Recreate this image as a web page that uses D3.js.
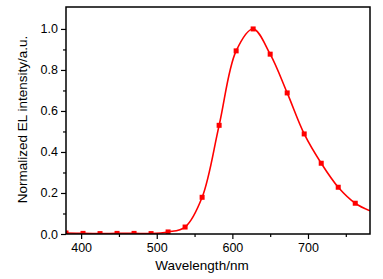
<!DOCTYPE html>
<html>
<head>
<meta charset="utf-8">
<script src="https://cdn.jsdelivr.net/npm/d3@7"></script>
<style>
  body { margin: 0; background: #fff; }
  text { font-family: "Liberation Sans", Arial, sans-serif; fill: #000; }
</style>
</head>
<body>
<div id="chart"></div>
<script>
// EL spectrum, sampled points (markers)
const wavelengths = [380, 402.5, 425, 447.5, 470, 492.5, 515, 537.5, 560, 582.5, 605, 627.5, 650, 672.5, 695, 717.5, 740, 762.5];
const intensity   = [0.005, 0.003, 0.002, 0.003, 0.003, 0.002, 0.01, 0.034, 0.179, 0.53, 0.893, 1.0, 0.877, 0.688, 0.488, 0.345, 0.228, 0.15];
// line continues to the frame edge
const lineEnd = { x: 782, y: 0.113 };

const xTicks = [400, 500, 600, 700];
const yTicks = [0.0, 0.2, 0.4, 0.6, 0.8, 1.0];

const width = 383, height = 279;
const margin = { top: 7, right: 13, bottom: 45, left: 66 };

const svg = d3.select('#chart').append('svg')
  .attr('width', width)
  .attr('height', height);

const x = d3.scaleLinear().domain([380, 782]).range([margin.left, width - margin.right]);
const y = d3.scaleLinear().domain([0, 1.107]).range([height - margin.bottom, margin.top]);

const g = svg.append('g');

// clip to plot area
svg.append('defs').append('clipPath').attr('id', 'clip')
  .append('rect')
  .attr('x', margin.left).attr('y', margin.top)
  .attr('width', width - margin.left - margin.right)
  .attr('height', height - margin.top - margin.bottom);

const pts = wavelengths.map((w, i) => ({ x: w, y: intensity[i] }));
const linePts = pts.concat([lineEnd]);

const line = d3.line()
  .x(d => x(d.x))
  .y(d => y(d.y))
  .curve(d3.curveCatmullRom.alpha(0.5));

g.append('path')
  .attr('clip-path', 'url(#clip)')
  .attr('d', line(linePts))
  .attr('fill', 'none')
  .attr('stroke', '#ff0000')
  .attr('stroke-width', 1.6);

g.append('g').attr('clip-path', 'url(#clip)')
  .selectAll('rect')
  .data(pts)
  .join('rect')
  .attr('x', d => x(d.x) - 2.5)
  .attr('y', d => y(d.y) - 2.5)
  .attr('width', 5)
  .attr('height', 5)
  .attr('fill', '#ff0000');

// axes
const xAxis = d3.axisBottom(x)
  .tickValues(xTicks)
  .tickSize(5)
  .tickPadding(4)
  .tickFormat(d3.format('d'));

const xMinor = d3.axisBottom(x)
  .tickValues([450, 550, 650, 750])
  .tickSize(3)
  .tickFormat('');

const yAxis = d3.axisLeft(y)
  .tickValues(yTicks)
  .tickSize(5)
  .tickPadding(3)
  .tickFormat(d3.format('.1f'));

const yMinor = d3.axisLeft(y)
  .tickValues([0.1, 0.3, 0.5, 0.7, 0.9])
  .tickSize(3)
  .tickFormat('');

const bottom = height - margin.bottom;

[xAxis, xMinor].forEach(ax => {
  svg.append('g')
    .attr('transform', `translate(0,${bottom})`)
    .call(ax)
    .call(s => s.select('.domain').remove())
    .call(s => s.selectAll('line').attr('stroke', '#000').attr('stroke-width', 1.2))
    .call(s => s.selectAll('text').style('font-size', '12.5px'));
});

[yAxis, yMinor].forEach(ax => {
  svg.append('g')
    .attr('transform', `translate(${margin.left},0)`)
    .call(ax)
    .call(s => s.select('.domain').remove())
    .call(s => s.selectAll('line').attr('stroke', '#000').attr('stroke-width', 1.2))
    .call(s => s.selectAll('text').style('font-size', '12.5px'));
});

// frame
svg.append('rect')
  .attr('x', margin.left)
  .attr('y', margin.top)
  .attr('width', width - margin.left - margin.right)
  .attr('height', height - margin.top - margin.bottom)
  .attr('fill', 'none')
  .attr('stroke', '#000')
  .attr('stroke-width', 1.5);

// axis titles
svg.append('text')
  .attr('x', 202)
  .attr('y', 270)
  .attr('text-anchor', 'middle')
  .style('font-size', '13.5px')
  .text('Wavelength/nm');

svg.append('text')
  .attr('transform', `translate(27,${(margin.top + bottom) / 2 - 1}) rotate(-90)`)
  .attr('text-anchor', 'middle')
  .style('font-size', '13.5px')
  .text('Normalized EL intensity/a.u.');
</script>
</body>
</html>
